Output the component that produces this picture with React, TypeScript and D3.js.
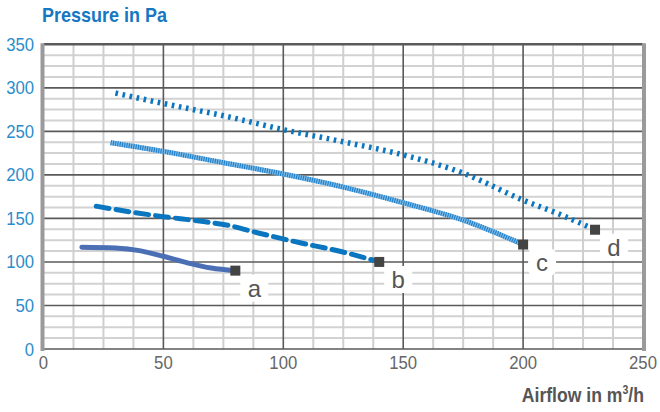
import React from "react";
import * as d3 from "d3";

const xTicks = [0, 50, 100, 150, 200, 250];
const yTicks = [0, 50, 100, 150, 200, 250, 300, 350];
const minorStep = 12.5;

const curveA = [[16, 117], [30, 116], [40, 113], [50, 106.5], [60, 99], [70, 93], [80, 90]];
const curveB = [[22, 164], [35, 158], [50, 152], [65, 147], [77, 142], [90, 133], [107, 122], [124, 112], [140, 100]];
const curveC = [[28, 237], [50, 227], [75, 214], [100, 201], [125, 186], [150, 168], [175, 148], [200, 120]];
const curveD = [[30, 294], [50, 282], [75, 268], [100, 252], [125, 238], [150, 223], [175, 202], [200, 171], [215, 155], [230, 137]];
const labels = ["a", "b", "c", "d"];

const W = 660, H = 412;
const x = d3.scaleLinear().domain([0, 250]).range([43.5, 643]);
const y = d3.scaleLinear().domain([0, 350]).range([349, 44.3]);
const line = d3.line<number[]>().x(d => x(d[0])).y(d => y(d[1])).curve(d3.curveMonotoneX);

const font = "'Liberation Sans', Arial, sans-serif";

export default function App() {
  const minorX = d3.range(0, 250 + 0.01, minorStep).filter(v => v % 50 !== 0);
  const minorY = d3.range(0, 350 + 0.01, minorStep).filter(v => v % 50 !== 0);
  const series = [curveA, curveB, curveC, curveD];
  return (
    <svg width={W} height={H} style={{ position: "absolute", left: 0, top: 0, background: "#fff" }}>
      {minorY.map(v => (
        <line key={"my" + v} x1={x(0)} x2={x(250)} y1={y(v)} y2={y(v)} stroke="#d2d2d2" strokeWidth={2} />
      ))}
      {minorX.map(v => (
        <line key={"mx" + v} x1={x(v)} x2={x(v)} y1={y(0)} y2={y(350)} stroke="#cfcfcf" strokeWidth={2} />
      ))}
      {yTicks.map(v => (
        <line key={"Y" + v} x1={x(0)} x2={x(250)} y1={y(v)} y2={y(v)} stroke="#5a5a5a" strokeWidth={v === 350 ? 2.5 : 1.6} />
      ))}
      {xTicks.filter(v => v > 0 && v < 250).map(v => (
        <line key={"X" + v} x1={x(v)} x2={x(v)} y1={y(0)} y2={y(350)} stroke="#5a5a5a" strokeWidth={1.6} />
      ))}
      <line x1={x(0) - 1} x2={x(0) - 1} y1={y(350) - 1} y2={y(0) + 2} stroke="#9a9a9a" strokeWidth={4} />
      <line x1={x(250) + 1} x2={x(250) + 1} y1={y(350) - 1} y2={y(0) + 2} stroke="#9a9a9a" strokeWidth={4} />

      <path d={line(curveA as any) || ""} fill="none" stroke="#4a6fb5" strokeWidth={5} strokeLinecap="round" />
      <path d={line(curveB as any) || ""} fill="none" stroke="#0a76c0" strokeWidth={5} strokeDasharray="13,7" strokeLinecap="round" />
      <path d={line(curveC as any) || ""} fill="none" stroke="#7ab8e6" strokeWidth={5} />
      <path d={line(curveC as any) || ""} fill="none" stroke="#1a7cc6" strokeWidth={5} strokeDasharray="1,1.3" />
      <path d={line(curveD as any) || ""} fill="none" stroke="#0b76c0" strokeWidth={5.5} strokeDasharray="2.6,4.6" />

      {series.map((s, i) => {
        const last = s[s.length - 1];
        const px = x(last[0]), py = y(last[1]);
        return (
          <g key={"m" + i}>
            <rect x={px - 5} y={py - 5} width={10} height={10} fill="#444" />
            <rect x={px + 5} y={py + 4} width={28} height={27} rx={6} fill="#fff" />
            <text x={px + 19} y={py + 26} textAnchor="middle" fontFamily={font} fontSize={24} fill="#555">{labels[i]}</text>
          </g>
        );
      })}

      {yTicks.map(v => (
        <g key={"yl" + v} transform={`translate(34,${y(v) + 6.5}) scale(0.88,1)`}>
          <text textAnchor="end" fontFamily={font} fontSize={19} fill="#2b8ccc">{v}</text>
        </g>
      ))}
      {xTicks.map(v => (
        <g key={"xl" + v} transform={`translate(${x(v)},369) scale(0.88,1)`}>
          <text textAnchor="middle" fontFamily={font} fontSize={19} fill="#666">{v}</text>
        </g>
      ))}

      <g transform="translate(42,22) scale(0.9,1)">
        <text fontFamily={font} fontWeight="bold" fontSize={20} fill="#1677c2">Pressure in Pa</text>
      </g>
      <g transform="translate(644,402) scale(0.88,1)">
        <text textAnchor="end" fontFamily={font} fontWeight="bold" fontSize={20} fill="#555">
          Airflow in m<tspan fontSize={12} dy={-8}>3</tspan><tspan dy={8}>/h</tspan>
        </text>
      </g>
    </svg>
  );
}
